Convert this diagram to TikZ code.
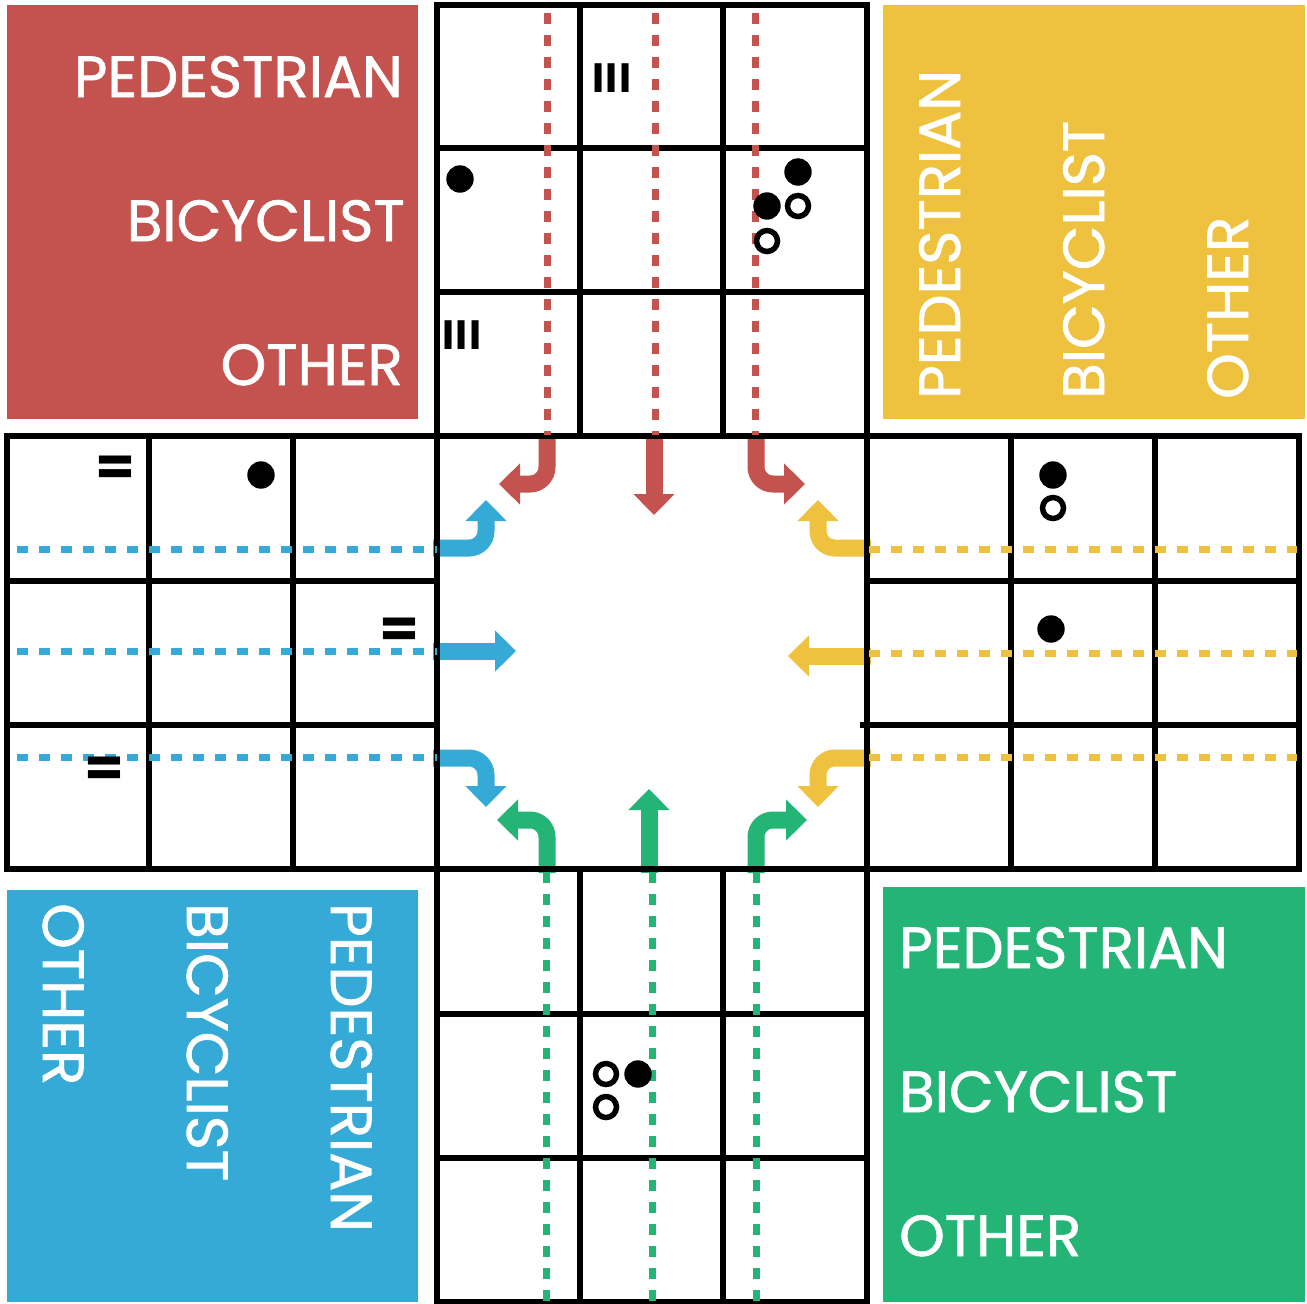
\documentclass[tikz,border=0pt]{standalone}
\usepackage{fontspec}
\setmainfont{Poppins}
\newfontfamily\lab{Poppins}[FakeBold=1.2]
\newfontfamily\tallyfont{Poppins}
\usetikzlibrary{arrows.meta}
\definecolor{cred}{HTML}{C4534F}
\definecolor{cyel}{HTML}{EEC13E}
\definecolor{cblu}{HTML}{35AAD6}
\definecolor{cgrn}{HTML}{24B476}
\begin{document}
\begin{tikzpicture}[x=1pt,y=-1pt,
 grid/.style={line width=5.5pt, black, line cap=rect},
 lane/.style={line width=7pt, dash pattern=on 11pt off 11pt},
 turn/.style={line width=17pt, rounded corners=17pt, -{Triangle[length=21pt,width=40pt]}},
 lbl/.style={text=white, inner sep=0pt, font=\lab\fontsize{58}{58}\selectfont},
 dot/.style={fill=black},
 ring/.style={draw=black, line width=5.5pt},
 tally/.style={inner sep=0pt, font=\tallyfont\bfseries\fontsize{41}{41}\selectfont}
]
\useasboundingbox (0,0) rectangle (1307,1304);
\fill[white] (0,0) rectangle (1307,1304);
% corner boxes
\fill[cred] (7,5) rectangle (418,419);
\fill[cyel] (883,5) rectangle (1305,419);
\fill[cblu] (7,890) rectangle (418,1302);
\fill[cgrn] (883,887) rectangle (1305,1302);
% labels
\node[lbl, anchor=base east] (rp) at (403,97) {PEDESTRIAN};
\node[lbl, anchor=base east] (rb) at (405,241) {BICYCLIST};
\node[lbl, anchor=base east] (ro) at (403,385) {OTHER};
\node[lbl, anchor=base west, rotate=90] (yp) at (960,399) {PEDESTRIAN};
\node[lbl, anchor=base west, rotate=90] (yb) at (1104,399) {BICYCLIST};
\node[lbl, anchor=base west, rotate=90] (yo) at (1248,399) {OTHER};
\node[lbl, anchor=base west, rotate=-90] (bo) at (43,903) {OTHER};
\node[lbl, anchor=base west, rotate=-90] (bb) at (187,903) {BICYCLIST};
\node[lbl, anchor=base west, rotate=-90] (bp) at (331,903) {PEDESTRIAN};
\node[lbl, anchor=base west] (gp) at (899,968) {PEDESTRIAN};
\node[lbl, anchor=base west] (gb) at (899,1112) {BICYCLIST};
\node[lbl, anchor=base west] (go) at (899,1256) {OTHER};
% turning arrows
\draw[turn, cred] (547,433) -- (547,484) -- (499,484);
\draw[turn, cred] (654,433) -- (654,515);
\draw[turn, cred] (756,433) -- (756,484) -- (805,484);
\draw[turn, cblu] (433,548) -- (486,548) -- (486,500);
\draw[turn, cblu] (433,651) -- (516,651);
\draw[turn, cblu] (433,758) -- (486,758) -- (486,807);
\draw[turn, cyel] (871,548) -- (818,548) -- (818,500);
\draw[turn, cyel] (871,656) -- (788,656);
\draw[turn, cyel] (871,758) -- (818,758) -- (818,807);
\draw[turn, cgrn] (547,873) -- (547,820) -- (497,820);
\draw[turn, cgrn] (649,873) -- (649,789);
\draw[turn, cgrn] (756,873) -- (756,820) -- (807,820);
% grid
\draw[grid] (437,5) -- (867,5);
\draw[grid] (437,148) -- (867,148);
\draw[grid] (437,292) -- (867,292);
\draw[grid] (7,436) -- (1299,436);
\draw[grid] (7,581) -- (437,581);
\draw[grid] (867,581) -- (1299,581);
\draw[grid] (7,725) -- (437,725);
\draw[grid] (863,725) -- (1299,725);
\draw[grid] (7,869) -- (1299,869);
\draw[grid] (437,1014) -- (867,1014);
\draw[grid] (437,1158) -- (867,1158);
\draw[grid] (437,1302) -- (867,1302);
\draw[grid] (7,436) -- (7,869);
\draw[grid] (149,436) -- (149,869);
\draw[grid] (293,436) -- (293,869);
\draw[grid] (437,5) -- (437,1302);
\draw[grid] (580,5) -- (580,436);
\draw[grid] (580,869) -- (580,1302);
\draw[grid] (723,5) -- (723,436);
\draw[grid] (723,869) -- (723,1302);
\draw[grid] (867,5) -- (867,1302);
\draw[grid] (1011,436) -- (1011,869);
\draw[grid] (1155,436) -- (1155,869);
\draw[grid] (1299,436) -- (1299,869);
% lane lines
\draw[lane, cred] (547,13) -- (547,435);
\draw[lane, cred] (655,13) -- (655,435);
\draw[lane, cred] (755,13) -- (755,435);
\draw[lane, cblu] (17,549) -- (437,549);
\draw[lane, cblu] (17,651) -- (437,651);
\draw[lane, cblu] (17,757) -- (437,757);
\draw[lane, cyel] (869,549) -- (1297,549);
\draw[lane, cyel] (869,653) -- (1297,653);
\draw[lane, cyel] (869,757) -- (1297,757);
\draw[lane, cgrn] (546,872) -- (546,1302);
\draw[lane, cgrn] (652,872) -- (652,1302);
\draw[lane, cgrn] (756,872) -- (756,1302);
% tallies
\node[tally] (t1) at (612,78) {I\hspace{1.5pt}I\hspace{1.5pt}I};
\node[tally] (t2) at (462,335) {I\hspace{1.5pt}I\hspace{1.5pt}I};
\node[tally] (e1) at (115,471) {\scalebox{1.4}[1.3]{=}};
\node[tally] (e2) at (399,633) {\scalebox{1.4}[1.3]{=}};
\node[tally] (e3) at (104,772) {\scalebox{1.4}[1.3]{=}};
% dots and rings
\foreach \p in {(460,179),(798,172),(767,206),(261,475),(1053,475),(1051,629),(638,1074)}
  \fill[dot] \p circle[radius=13.7];
\foreach \p in {(798,206),(767,241),(1053,508),(606,1074),(606,1107)}
  \draw[ring] \p circle[radius=10.5];
\end{tikzpicture}
\end{document}
